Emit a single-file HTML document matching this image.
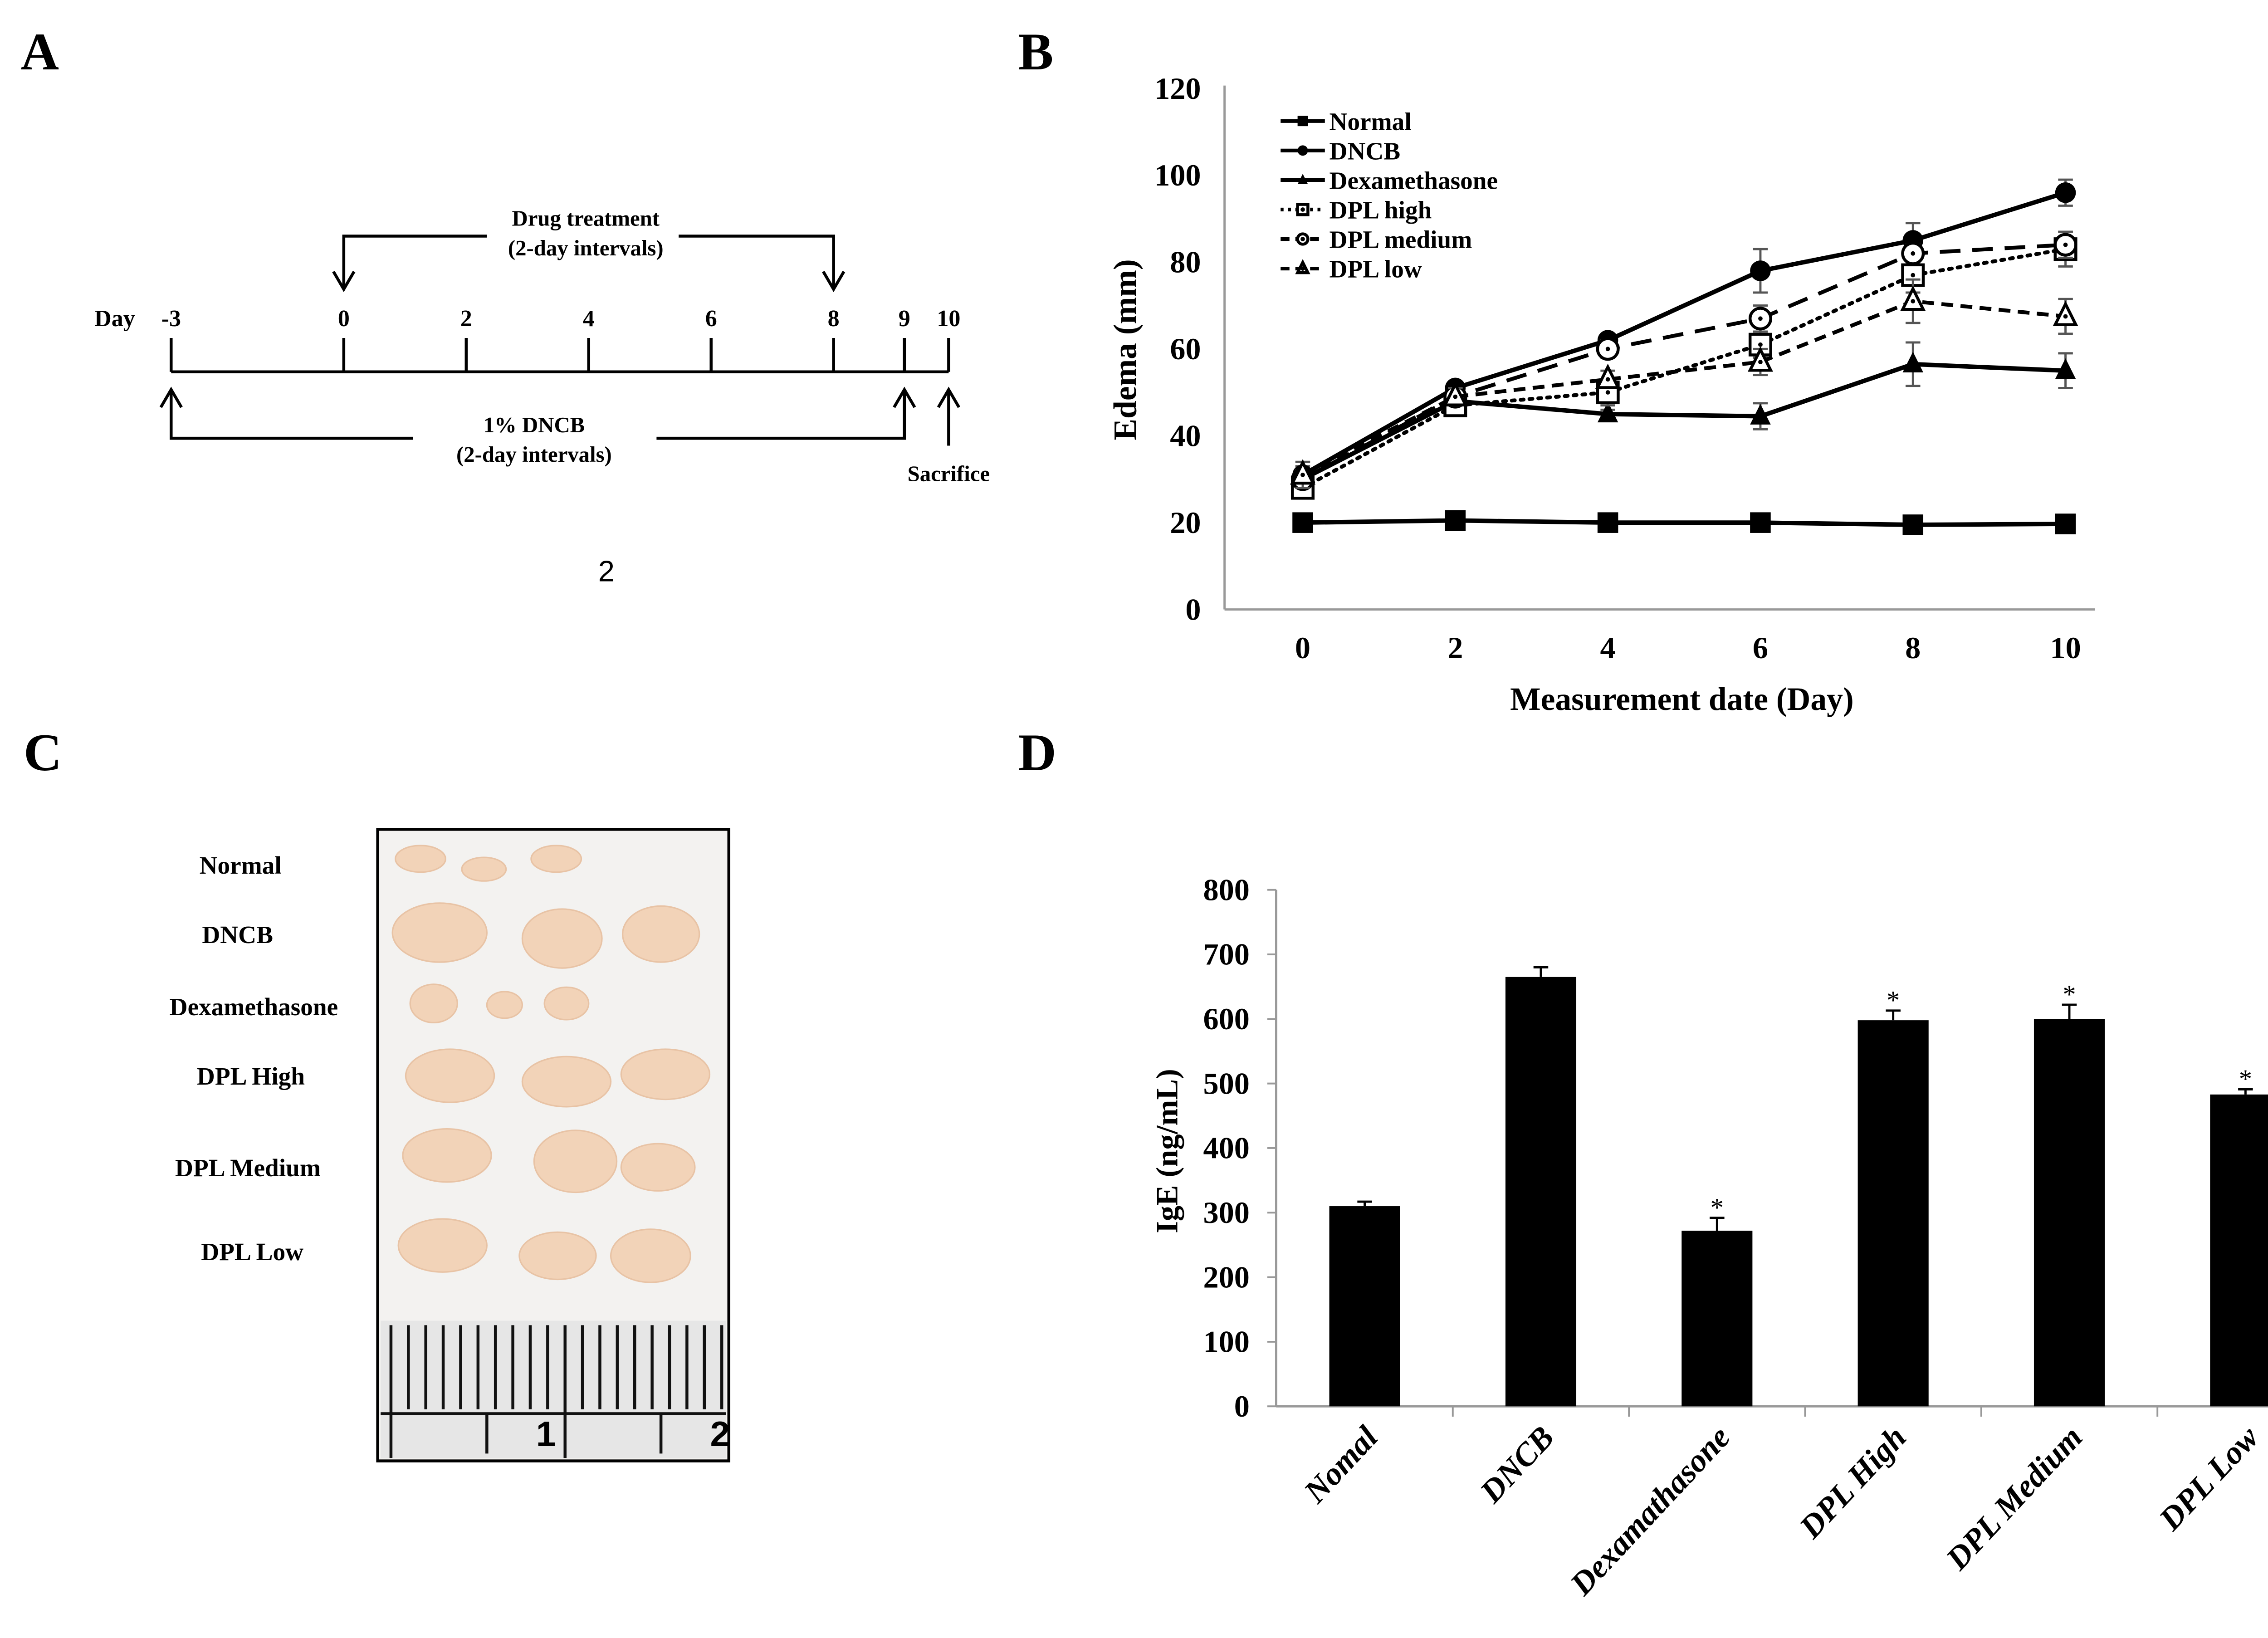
<!DOCTYPE html>
<html><head><meta charset="utf-8">
<style>
html,body{margin:0;padding:0;background:#fff;}
svg{display:block;}
text{font-family:"Liberation Serif",serif;font-weight:bold;fill:#000;}
</style></head>
<body>
<svg id="fig" width="5100" height="3611" viewBox="0 0 1568 1110" preserveAspectRatio="none" xmlns="http://www.w3.org/2000/svg">
<rect x="0" y="0" width="1568" height="1110" fill="#fff"/>
<text x="14" y="47" font-size="36">A</text>
<text x="690" y="47" font-size="36">B</text>
<text x="16" y="522" font-size="36">C</text>
<text x="690" y="522" font-size="36">D</text>

<g id="timeline" stroke="#000" stroke-width="2" fill="none">
<line x1="116" y1="252" x2="643" y2="252"/>
<path d="M233 196 V160 H330 M460 160 H565 V196"/>
<path d="M226 184 L233 196 L240 184 M558 184 L565 196 L572 184"/>
<path d="M116 264 V297 H280 M445 297 H613 V264"/>
<path d="M109 276 L116 264 L123 276 M606 276 L613 264 L620 276"/>
<path d="M643 302 V264 M636 276 L643 264 L650 276"/>
</g>
<text x="64" y="221" font-size="16">Day</text>
<g id="daylabels" font-size="16" text-anchor="middle"></g>
<text x="397" y="153" font-size="15" text-anchor="middle">Drug treatment</text>
<text x="397" y="173" font-size="15" text-anchor="middle">(2-day intervals)</text>
<text x="362" y="293" font-size="15" text-anchor="middle">1% DNCB</text>
<text x="362" y="313" font-size="15" text-anchor="middle">(2-day intervals)</text>
<text x="643" y="326" font-size="15" text-anchor="middle">Sacrifice</text>
<text x="411" y="394" font-size="20" text-anchor="middle" style="font-family:'Liberation Sans',sans-serif;font-weight:normal">2</text>

<g id="chartB"></g>
<text x="1140" y="481" font-size="22" text-anchor="middle">Measurement date (Day)</text>
<text transform="translate(770,237) rotate(-90)" font-size="22" text-anchor="middle">Edema (mm)</text>
<g id="legendB"></g>

<g>
<rect x="256" y="562" width="238" height="428" fill="#f3f2f0" stroke="#000" stroke-width="2"/>
<g id="blobs"></g>
<rect x="258" y="895" width="234" height="93" fill="#e6e6e6"/>
<g id="ruler" stroke="#111" stroke-width="2"></g>
<text x="370" y="980" font-size="24" style="font-family:'Liberation Sans',sans-serif" text-anchor="middle">1</text>
<text x="488" y="980" font-size="24" style="font-family:'Liberation Sans',sans-serif" text-anchor="middle">2</text>
</g>
<g font-size="17" text-anchor="middle">
<text x="163" y="592">Normal</text>
<text x="161" y="639">DNCB</text>
<text x="172" y="688">Dexamethasone</text>
<text x="170" y="735">DPL High</text>
<text x="168" y="797">DPL Medium</text>
<text x="171" y="854">DPL Low</text>
</g>

<g id="chartD"></g>
<text transform="translate(798,780) rotate(-90)" font-size="21" text-anchor="middle">IgE (ng/mL)</text>
</svg>
<script>
const days = [0, 2, 4, 6, 8, 10];
const yTicksB = [0, 20, 40, 60, 80, 100, 120];
const seriesNames = ["Normal", "DNCB", "Dexamethasone", "DPL high", "DPL medium", "DPL low"];
const normalVals = [20, 20.5, 20, 20, 19.5, 19.7];
const dncbVals = [31, 51, 62, 78, 85, 96];
const dexaVals = [30, 48, 45, 44.5, 56.5, 55];
const highVals = [28, 47, 50, 61, 77, 83];
const mediumVals = [30, 49, 60, 67, 82, 84];
const lowVals = [31, 49, 53, 57, 71, 67.5];
const normalErr = [0.5, 0.5, 0.5, 0.5, 0.5, 0.5];
const dncbErr = [2, 1, 1, 5, 4, 3];
const dexaErr = [2, 1, 1, 3, 5, 4];
const highErr = [2, 2, 3, 3, 4, 4];
const mediumErr = [2, 2, 2, 3, 2, 3];
const lowErr = [3, 2, 2, 3, 5, 4];
const groups = ["Nomal", "DNCB", "Dexamathasone", "DPL High", "DPL Medium", "DPL Low"];
const igeVals = [310, 665, 272, 598, 600, 483];
const igeErr = [7, 15, 20, 15, 22, 8];
const igeSig = [false, false, true, true, true, true];
const yTicksD = [0, 100, 200, 300, 400, 500, 600, 700, 800];
const dayLabels = ["-3", "0", "2", "4", "6", "8", "9", "10"];
const dayValues = [-3, 0, 2, 4, 6, 8, 9, 10];

const NS = "http://www.w3.org/2000/svg";
function mk(tag, attrs, parent, txt) {
  const e = document.createElementNS(NS, tag);
  for (const k in attrs) e.setAttribute(k, attrs[k]);
  if (txt !== undefined) e.textContent = txt;
  parent.appendChild(e);
  return e;
}

const tlX = d => d <= 0 ? 233 + (d) * 39 : (d <= 8 ? 233 + d * 41.5 : (d === 9 ? 613 : 643));
const dl = document.getElementById("daylabels");
const tl = document.getElementById("timeline");
dayValues.forEach((d, i) => {
  const t = mk("text", {x: tlX(d), y: 221}, dl, dayLabels[i]);
  
  
  const l = mk("line", {x1: tlX(d), y1: 229, x2: tlX(d), y2: 252}, tl);
  
  
});

const gB = document.getElementById("chartB");
const xB = d => 883 + d * 51.7;
const yB = v => 413 - v * 2.942;
mk("line", {x1: 830, y1: 58, x2: 830, y2: 413, stroke: "#999", "stroke-width": 1.5}, gB);
mk("line", {x1: 830, y1: 413, x2: 1420, y2: 413, stroke: "#999", "stroke-width": 1.5}, gB);
yTicksB.forEach(v => {
  const t = mk("text", {x: 814, y: yB(v) + 7, "font-size": 21, "text-anchor": "end"}, gB, v);
  
  
});
days.forEach(d => {
  const t = mk("text", {x: xB(d), y: 446, "font-size": 21, "text-anchor": "middle"}, gB, d);
  
  
});
const allVals = [normalVals, dncbVals, dexaVals, highVals, mediumVals, lowVals];
const allErr = [normalErr, dncbErr, dexaErr, highErr, mediumErr, lowErr];
const dashes = ["", "", "", "2,4", "14,8", "8,5"];
const markers = ["square", "circle", "triangle", "hsquare", "hcircle", "htriangle"];
const mkNames = ["normal", "dncb", "dexamethasone", "dpl-high", "dpl-medium", "dpl-low"];
function marker(g, type, x, y, s) {
  let e;
  const open = type.startsWith("h");
  const fill = open ? "#fff" : "#000";
  const base = type.replace("h", "");
  if (base === "square") e = mk("rect", {x: x - s, y: y - s, width: 2 * s, height: 2 * s, fill: fill, stroke: "#000", "stroke-width": open ? 2 : 0}, g);
  else if (base === "circle") e = mk("circle", {cx: x, cy: y, r: s, fill: fill, stroke: "#000", "stroke-width": open ? 2 : 0}, g);
  else e = mk("polygon", {points: `${x},${y - s * 1.2} ${x - s},${y + s * 0.8} ${x + s},${y + s * 0.8}`, fill: fill, stroke: "#000", "stroke-width": open ? 2 : 0}, g);
  if (open) mk("circle", {cx: x, cy: y, r: 1.5, fill: "#000"}, g);
  return e;
}
allVals.forEach((vals, si) => {
  const g = mk("g", {}, gB);
  
  
  vals.forEach((v, i) => {
    const x = xB(days[i]), e = allErr[si][i];
    mk("path", {d: `M${x} ${yB(v - e)} V${yB(v + e)} M${x - 5} ${yB(v - e)} H${x + 5} M${x - 5} ${yB(v + e)} H${x + 5}`, stroke: "#555", "stroke-width": 1.5, fill: "none"}, g);
  });
  const pts = vals.map((v, i) => xB(days[i]) + "," + yB(v)).join(" ");
  const attrs = {points: pts, fill: "none", stroke: "#000", "stroke-width": si < 3 ? 3 : 2.6};
  if (dashes[si]) attrs["stroke-dasharray"] = dashes[si];
  if (si === 3) attrs["stroke-linecap"] = "round";
  const pl = mk("polyline", attrs, g);
  
  
  vals.forEach((v, i) => {
    const m = marker(g, markers[si], xB(days[i]), yB(v), 7);
    
    
  });
});
const lg = document.getElementById("legendB");
seriesNames.forEach((n, i) => {
  const y = 83 + i * 20;
  const attrs = {x1: 868, y1: y - 1, x2: 898, y2: y - 1, stroke: "#000", "stroke-width": 2.5};
  if (dashes[i]) attrs["stroke-dasharray"] = i === 3 ? "2,3" : "6,4";
  mk("line", attrs, lg);
  marker(lg, markers[i], 883, y - 1, 3.5);
  const t = mk("text", {x: 901, y: y + 5, "font-size": 17}, lg, n);
  
  
});

const bl = document.getElementById("blobs");
const blobData = [
  [285,582,17,9],[328,589,15,8],[377,582,17,9],
  [298,632,32,20],[381,636,27,20],[448,633,26,19],
  [294,680,16,13],[342,681,12,9],[384,680,15,11],
  [305,729,30,18],[384,733,30,17],[451,728,30,17],
  [303,783,30,18],[390,787,28,21],[446,791,25,16],
  [300,844,30,18],[378,851,26,16],[441,851,27,18]];
blobData.forEach(b => {
  const e = mk("ellipse", {cx: b[0], cy: b[1], rx: b[2], ry: b[3], fill: "#f2d3b8", stroke: "#e8c3a5", "stroke-width": 1}, bl);
  
  
});
const ru = document.getElementById("ruler");
for (let i = 0; i < 20; i++) {
  const x = 265 + i * 11.8;
  mk("line", {x1: x, y1: 898, x2: x, y2: i % 10 === 0 ? 988 : 955}, ru);
}
mk("line", {x1: 258, y1: 958, x2: 492, y2: 958}, ru);
mk("line", {x1: 330, y1: 958, x2: 330, y2: 985}, ru);
mk("line", {x1: 448, y1: 958, x2: 448, y2: 985}, ru);

const gD = document.getElementById("chartD");
const yD = v => 953 - v * 0.4375;
const xD = i => 925 + i * 119.4;
mk("line", {x1: 865, y1: 603, x2: 865, y2: 953, stroke: "#999", "stroke-width": 1.5}, gD);
mk("line", {x1: 865, y1: 953, x2: 1568, y2: 953, stroke: "#999", "stroke-width": 1.5}, gD);
yTicksD.forEach(v => {
  mk("line", {x1: 859, y1: yD(v), x2: 865, y2: yD(v), stroke: "#999", "stroke-width": 1.2}, gD);
  const t = mk("text", {x: 847, y: yD(v) + 7, "font-size": 21, "text-anchor": "end"}, gD, v);
  
  
});
groups.forEach((g, i) => {
  if (i > 0) mk("line", {x1: xD(i) - 59.7, y1: 953, x2: xD(i) - 59.7, y2: 960, stroke: "#999", "stroke-width": 1.2}, gD);
  const x = xD(i), v = igeVals[i], e = igeErr[i];
  mk("path", {d: `M${x} ${yD(v)} V${yD(v + e)} M${x - 5} ${yD(v + e)} H${x + 5}`, stroke: "#000", "stroke-width": 1.5, fill: "none"}, gD);
  const r = mk("rect", {x: x - 24, y: yD(v), width: 48, height: 953 - yD(v), fill: "#000"}, gD);
  
  
  if (igeSig[i]) {
    const s = mk("text", {x: x, y: yD(v + e) - 1, "font-size": 18, "text-anchor": "middle", style: "font-weight:normal"}, gD, "*");
    
    
  }
  const t = mk("text", {transform: `translate(${x + 10},${975}) rotate(-47)`, "font-size": 22, "text-anchor": "end", "font-style": "italic"}, gD, g);
  
  
});
</script>
</body></html>
